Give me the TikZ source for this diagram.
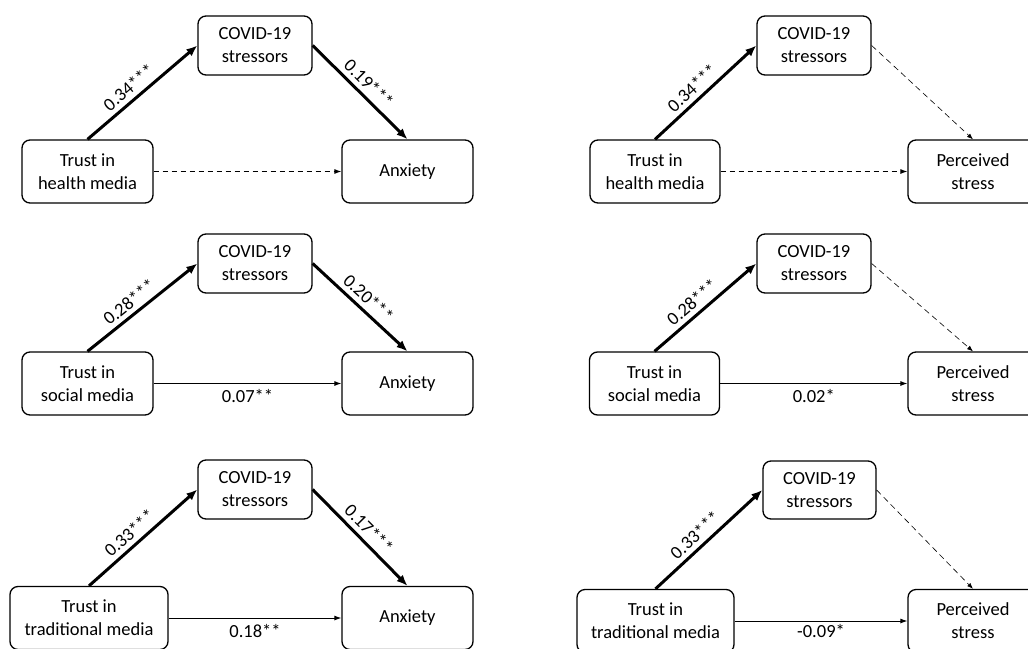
\documentclass[tikz,border=0pt]{standalone}
\usepackage{fontspec}
\setmainfont{Carlito}
\usetikzlibrary{arrows.meta}

\begin{document}
\begin{tikzpicture}[x=1pt, y=-1pt,
        box/.style={draw, line width=1.3pt, rounded corners=8pt, align=center,
            inner sep=0pt, font=\fontsize{18.5}{23}\selectfont},
        covbox/.style={box, minimum width=114pt, minimum height=59pt},
        endbox/.style={box, minimum width=131pt, minimum height=63pt},
        strong/.style={line width=3pt, -{Latex[length=11pt,width=9pt]}},
        weak/.style={line width=0.9pt, -{Latex[length=7pt,width=5pt]}},
        nonsig/.style={weak, dash pattern=on 5pt off 4pt},
        faint/.style={line width=0.6pt, dash pattern=on 6pt off 4pt, -{Latex[length=6pt,width=4.5pt]}},
        coef/.style={font=\fontsize{18.5}{23}\selectfont, inner sep=2pt},
        slopecoef/.style={coef, sloped, above=2.5pt}]
                \useasboundingbox (0,0) rectangle (1028,648);
                \clip (0,0) rectangle (1028,648);
                % left column: anxiety
                \node [covbox] (cov1) at (255, 45.5) {COVID-19\\stressors};
                \node [endbox] (tr1) at (87.5, 171.5) {Trust in\\health media};
                \node [endbox] (anx1) at (407.5, 171.5) {Anxiety};
                \draw [strong] (tr1.north) -- node [slopecoef, pos=0.45] {0.34***} (cov1.west);
                \draw [strong] (cov1.east) -- node [slopecoef, pos=0.5] {0.19***} (anx1.north);
                \draw [nonsig] (tr1.east) -- (anx1.west);

                \node [covbox] (cov2) at (255, 263.5) {COVID-19\\stressors};
                \node [endbox] (tr2) at (87.5, 383.5) {Trust in\\social media};
                \node [endbox] (anx2) at (407.5, 383.5) {Anxiety};
                \draw [strong] (tr2.north) -- node [slopecoef, pos=0.45] {0.28***} (cov2.west);
                \draw [strong] (cov2.east) -- node [slopecoef, pos=0.5] {0.20***} (anx2.north);
                \draw [weak] (tr2.east) -- node [coef, below, yshift=-3pt] {0.07**} (anx2.west);

                \node [covbox] (cov3) at (255, 489.5) {COVID-19\\stressors};
                \node [endbox, minimum width=158pt] (tr3) at (89, 618) {Trust in\\traditional media};
                \node [endbox] (anx3) at (407.5, 618) {Anxiety};
                \draw [strong] (tr3.north) -- node [slopecoef, pos=0.45] {0.33***} (cov3.west);
                \draw [strong] (cov3.east) -- node [slopecoef, pos=0.5] {0.17***} (anx3.north);
                \draw [weak] (tr3.east) -- node [coef, below, yshift=-4pt] {0.18**} (anx3.west);

                % right column: perceived stress
                \node [covbox] (cov4) at (814, 45.5) {COVID-19\\stressors};
                \node [endbox, minimum width=130pt] (tr4) at (655, 171.5) {Trust in\\health media};
                \node [endbox, minimum width=130pt] (ps4) at (973, 171.5) {Perceived\\stress};
                \draw [strong] (tr4.north) -- node [slopecoef, pos=0.45] {0.34***} (cov4.west);
                \draw [faint] (cov4.east) -- (ps4.north);
                \draw [nonsig] (tr4.east) -- (ps4.west);

                \node [covbox] (cov5) at (814, 263.5) {COVID-19\\stressors};
                \node [endbox, minimum width=130pt] (tr5) at (654.5, 383.5) {Trust in\\social media};
                \node [endbox, minimum width=130pt] (ps5) at (973, 383.5) {Perceived\\stress};
                \draw [strong] (tr5.north) -- node [slopecoef, pos=0.45] {0.28***} (cov5.west);
                \draw [faint] (cov5.east) -- (ps5.north);
                \draw [weak] (tr5.east) -- node [coef, below, yshift=-3pt] {0.02*} (ps5.west);

                \node [covbox, minimum width=113pt, minimum height=58pt] (cov6) at (819.5, 490) {COVID-19\\stressors};
                \node [endbox, minimum width=157pt] (tr6) at (655.5, 621) {Trust in\\traditional media};
                \node [endbox, minimum width=130pt] (ps6) at (973, 621) {Perceived\\stress};
                \draw [strong] (tr6.north) -- node [slopecoef, pos=0.45] {0.33***} (cov6.west);
                \draw [faint] (cov6.east) -- (ps6.north);
                \draw [weak] (tr6.east) -- node [coef, below, yshift=-1pt] {-0.09*} (ps6.west);
            \end{tikzpicture}
\end{document}
